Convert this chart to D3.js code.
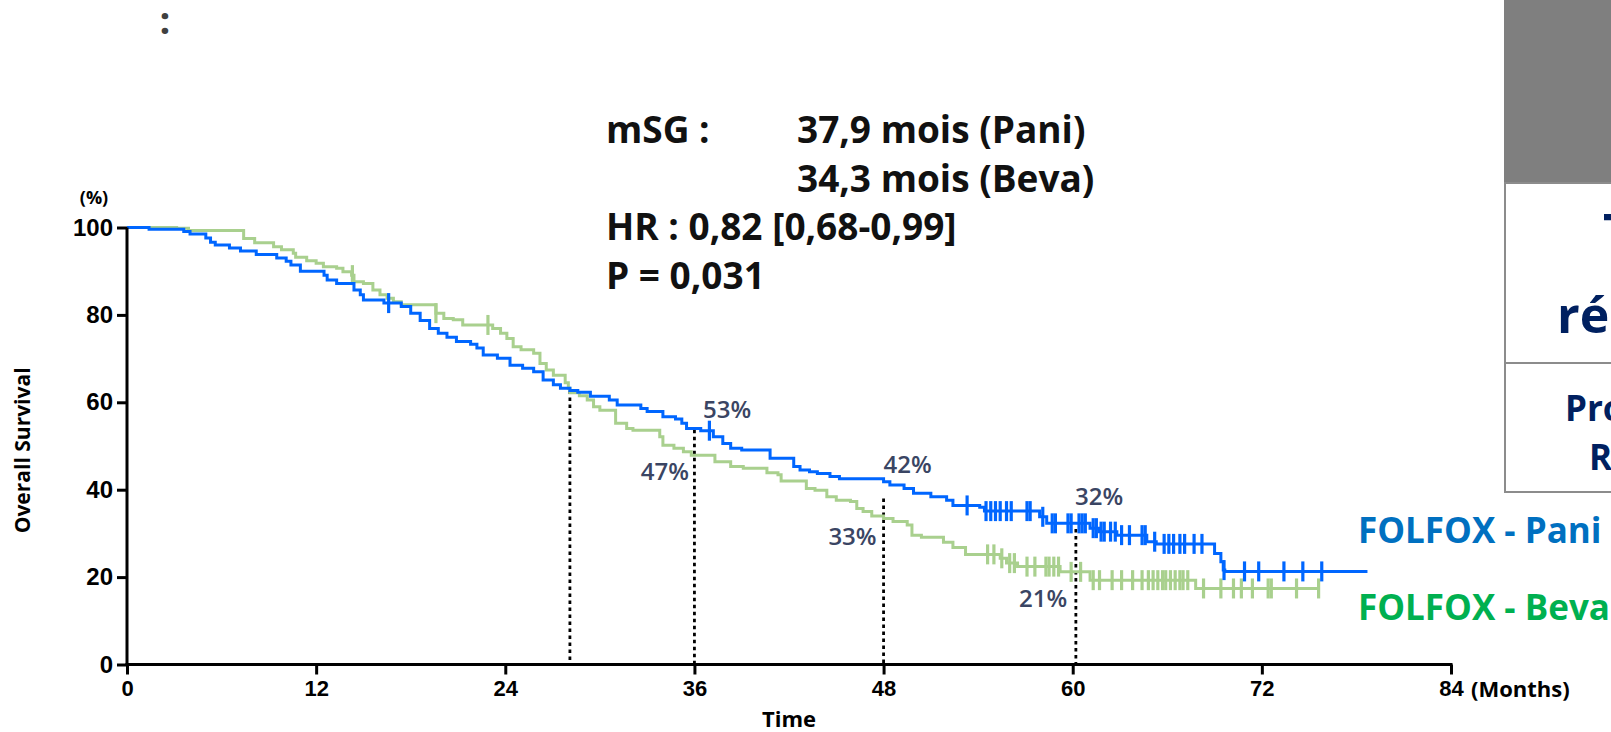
<!DOCTYPE html>
<html>
<head>
<meta charset="utf-8">
<script src="https://cdn.jsdelivr.net/npm/d3@7"></script>
<style>
  body { margin: 0; background: #fff; }
  svg { display: block; font-family: "Open Sans", "Noto Sans", sans-serif; }
  .axis path, .axis line { stroke: #000; stroke-width: 3px; }
  .axis text { font-size: 22px; font-weight: 700; fill: #000; }
  .yaxis text { font-size: 24px; }
</style>
</head>
<body>
<svg id="chart" width="1611" height="732"></svg>
<script>
// Kaplan-Meier steps: time (months) and survival (%) after each step
var paniTime = [0, 1.4, 3.6, 4.0, 5.0, 5.3, 5.6, 6.5, 7.2, 8.2, 9.5, 10.1, 10.4, 11.0, 12.5, 12.7, 13.3, 14.4, 14.8, 15.0,
    16.3, 17.4, 18.0, 18.6, 19.2, 19.75, 20.3, 20.9, 21.8, 22.2, 22.6, 23.5, 24.3, 25.1, 25.8, 26.4, 27.05, 27.5, 28.1, 28.6,
    29.4, 30.6, 31.1, 32.6, 33.0, 34.0, 34.8, 35.2, 35.5, 36.4, 37.2, 37.8, 38.3, 39.0, 40.8, 42.3, 42.7, 43.3, 43.8, 44.6,
    45.2, 48.0, 48.4, 49.3, 49.9, 51.0, 52.0, 52.4, 54.1, 54.4, 57.9, 58.35, 61.1, 61.7, 62.8, 64.7, 65.3, 69.0, 69.4, 69.55, 69.65];
var paniSurv = [100, 99.6, 99.1, 98.5, 97.6, 96.6, 96.0, 95.3, 94.6, 93.8, 93.0, 92.3, 91.4, 90.0, 89.1, 88.0, 87.2, 85.7, 84.6, 83.4,
    82.7, 81.9, 80.4, 78.7, 76.9, 75.8, 74.9, 73.9, 73.3, 72.4, 70.8, 70.1, 68.5, 67.8, 67.0, 65.1, 64.0, 63.2, 62.7, 62.3,
    61.4, 60.5, 59.4, 58.6, 57.9, 56.7, 56.2, 55.2, 54.0, 53.5, 52.1, 50.6, 49.5, 49.1, 47.2, 45.3, 44.5, 44.1, 43.7, 43.0,
    42.5, 41.8, 41.1, 40.3, 39.2, 38.4, 37.6, 36.4, 36.0, 35.1, 33.8, 32.3, 31.2, 30.4, 29.6, 28.1, 27.6, 25.4, 23.5, 21.6, 21.3];
var paniCensor = [16.6, 36.95, 53.3, 54.5, 54.8, 55.1, 55.4, 55.8, 56.1, 57.1, 57.3, 58.1, 58.7, 58.9, 59.7, 59.9, 60.4, 60.6,
    60.8, 61.3, 61.5, 61.8, 62.0, 62.4, 62.7, 63.1, 63.6, 64.4, 64.6, 65.2, 65.8, 66.1, 66.4, 66.8, 67.1, 67.7, 68.2, 69.6,
    70.9, 71.8, 73.4, 74.6, 75.8];
var paniEnd = 78.7;

var bevaTime = [0, 3.15, 3.9, 7.4, 8.1, 9.3, 9.8, 10.55, 10.7, 11.4, 12.0, 12.46, 13.3, 13.7, 14.25, 14.4, 15.0, 15.6, 16.05, 16.5,
    16.9, 17.4, 19.6, 20.1, 20.7, 21.3, 23.2, 23.7, 24.1, 24.5, 25.0, 25.8, 26.2, 26.6, 27.05, 27.8, 28.0, 28.1, 28.7, 29.2,
    29.6, 30.0, 31.0, 31.7, 32.1, 33.8, 34.0, 34.7, 35.3, 35.8, 37.3, 38.3, 39.1, 40.6, 41.3, 41.5, 43.1, 43.65, 44.4, 45.0,
    45.9, 46.3, 46.7, 47.25, 48.0, 48.6, 49.5, 49.8, 50.4, 51.8, 52.4, 53.2, 55.4, 55.8, 56.5, 59.2, 61.1, 67.8];
var bevaSurv = [100, 99.8, 99.3, 97.5, 96.5, 95.6, 94.9, 94.1, 93.2, 92.4, 91.8, 91.0, 90.7, 89.9, 89.1, 87.6, 87.2, 85.7, 84.6, 83.8,
    83.0, 82.3, 80.4, 79.2, 78.9, 77.7, 76.9, 75.8, 74.6, 72.7, 72.0, 71.2, 68.9, 67.4, 66.2, 64.5, 63.2, 62.2, 61.5, 60.5,
    59.0, 58.2, 55.2, 54.0, 53.6, 52.1, 50.2, 49.5, 48.7, 47.9, 46.4, 45.3, 44.9, 43.9, 43.4, 42.0, 40.3, 39.9, 38.4, 37.6,
    37.3, 35.7, 35.0, 34.0, 33.4, 32.7, 31.9, 29.6, 29.1, 28.0, 26.8, 25.2, 24.3, 23.2, 22.4, 21.2, 19.3, 17.4];
var bevaCensor = [14.3, 19.6, 22.9, 54.6, 55.0, 55.5, 56.0, 56.3, 57.1, 57.6, 58.3, 58.5, 58.8, 59.1, 59.9, 60.5, 61.3, 61.7,
    62.5, 63.1, 63.8, 64.4, 64.8, 65.1, 65.4, 65.7, 65.9, 66.2, 66.5, 66.8, 67.0, 67.3, 68.3, 69.4, 70.2, 70.7, 71.4, 72.4,
    72.6, 74.2, 75.6];
var bevaEnd = 75.6;

// landmark lines (time, survival at top of the dotted line)
var landmarkTime = [28.1, 36, 48, 60.2];
var landmarkTop = [62.7, 53.7, 38, 31];

// landmark labels anchored in data units (time, survival)
var pctText = ["53%", "47%", "42%", "33%", "32%", "21%"];
var pctTime = [36.55, 32.6, 48.0, 44.5, 60.15, 56.6];
var pctSurv = [56.4, 42.2, 43.8, 27.3, 36.5, 13.2];

var xTicks = [0, 12, 24, 36, 48, 60, 72, 84];
var yTicks = [0, 20, 40, 60, 80, 100];

var statLines = ["mSG :", "HR : 0,82 [0,68-0,99]", "P = 0,031"];
var medianLines = ["37,9 mois (Pani)", "34,3 mois (Beva)"];
var seriesNames = ["FOLFOX - Pani", "FOLFOX - Beva"];

var svg = d3.select("#chart");

// scales
var x = d3.scaleLinear().domain([0, 84]).range([127, 1451]);
var y = d3.scaleLinear().domain([0, 100]).range([664.5, 227.5]);

// step value lookup, used to sit the censor marks on the curve
function survAt(times, surv, t) {
    var i = d3.bisectRight(times, t) - 1;
    return surv[Math.max(i, 0)];
}

// right hand slide fragment (grey header + table)
svg.append("rect").attr("x", 1504).attr("y", 0).attr("width", 107).attr("height", 183).attr("fill", "#7f7f7f");
svg.append("path")
    .attr("d", "M1611,183 H1505 V492 H1611 M1505,363 H1611")
    .attr("fill", "none").attr("stroke", "#8c8c8c").attr("stroke-width", 2);
var navy = "#002060";
svg.append("text").attr("x", 1603).attr("y", 250).attr("font-size", 50).attr("font-weight", 700).attr("fill", navy).text("T");
svg.append("text").attr("x", 1557).attr("y", 333).attr("font-size", 50).attr("font-weight", 700).attr("fill", navy).text("ré");
svg.append("text").attr("x", 1565).attr("y", 421).attr("font-size", 35).attr("font-weight", 700).attr("fill", navy).text("Pro");
svg.append("text").attr("x", 1589).attr("y", 470).attr("font-size", 35).attr("font-weight", 700).attr("fill", navy).text("R");

// stray colon top left
svg.append("text").attr("x", 165).attr("y", 34).attr("text-anchor", "middle")
    .attr("font-size", 38).attr("font-weight", 700).attr("fill", "#404040").text(":");

// dotted landmark lines
svg.append("g").selectAll("line")
    .data(landmarkTime)
    .enter().append("line")
    .attr("x1", function(d) { return x(d); })
    .attr("x2", function(d) { return x(d); })
    .attr("y1", function(d, i) { return y(landmarkTop[i]); })
    .attr("y2", y(0))
    .attr("stroke", "#000")
    .attr("stroke-width", 2.8)
    .attr("stroke-dasharray", "3.5,3.5");

// curves
var line = d3.line()
    .x(function(d) { return x(d[0]); })
    .y(function(d) { return y(d[1]); })
    .curve(d3.curveStepAfter);

function drawArm(times, surv, censor, end, color) {
    var pts = times.map(function(t, i) { return [t, surv[i]]; });
    pts.push([end, surv[surv.length - 1]]);
    var g = svg.append("g");
    g.append("path")
        .attr("d", line(pts))
        .attr("fill", "none")
        .attr("stroke", color)
        .attr("stroke-width", 3);
    g.selectAll("line")
        .data(censor)
        .enter().append("line")
        .attr("x1", function(d) { return x(d); })
        .attr("x2", function(d) { return x(d); })
        .attr("y1", function(d) { return y(survAt(times, surv, d)) - 10; })
        .attr("y2", function(d) { return y(survAt(times, surv, d)) + 10; })
        .attr("stroke", color)
        .attr("stroke-width", 3.2);
}
drawArm(bevaTime, bevaSurv, bevaCensor, bevaEnd, "#a9d08e");
drawArm(paniTime, paniSurv, paniCensor, paniEnd, "#0066ff");

// axes
var yAxis = d3.axisLeft(y).tickValues(yTicks).tickSize(10).tickSizeOuter(0).tickPadding(4);
var xAxis = d3.axisBottom(x).tickValues(xTicks).tickSize(10).tickSizeOuter(0).tickPadding(6);

svg.append("g").attr("class", "axis yaxis")
    .attr("transform", "translate(" + x(0) + ",0)")
    .call(yAxis)
    .call(function(g) { g.select(".domain").attr("d", "M0," + y(100) + "V" + (y(0) + 1.5)); });

svg.append("g").attr("class", "axis")
    .attr("transform", "translate(0," + y(0) + ")")
    .call(xAxis)
    .call(function(g) { g.select(".domain").attr("d", "M" + (x(0) - 1.5) + ",0H" + (x(84) + 1.5)); });

svg.append("text").attr("x", x(84) + 20).attr("y", y(0) + 32)
    .attr("font-size", 22).attr("font-weight", 700).text("(Months)");
svg.append("text").attr("x", x(42)).attr("y", 727).attr("text-anchor", "middle")
    .attr("font-size", 22).attr("font-weight", 700).text("Time");
svg.append("text").attr("x", 94).attr("y", 204).attr("text-anchor", "middle")
    .attr("font-size", 18).attr("font-weight", 700).text("(%)");
svg.append("text")
    .attr("transform", "translate(30," + y(49) + ") rotate(-90)")
    .attr("text-anchor", "middle")
    .attr("font-size", 21).attr("font-weight", 700).text("Overall Survival");

// landmark percentages
svg.append("g").selectAll("text")
    .data(pctText)
    .enter().append("text")
    .attr("x", function(d, i) { return x(pctTime[i]); })
    .attr("y", function(d, i) { return y(pctSurv[i]); })
    .attr("font-size", 24)
    .attr("font-weight", 600)
    .attr("fill", "#3a4563")
    .text(function(d) { return d; });

// statistics block
var stat = svg.append("g").attr("font-size", 37).attr("font-weight", 700).attr("fill", "#111");
stat.append("text").attr("x", 606).attr("y", 143).text(statLines[0]);
stat.append("text").attr("x", 797).attr("y", 143).text(medianLines[0]);
stat.append("text").attr("x", 797).attr("y", 191.5).text(medianLines[1]);
stat.append("text").attr("x", 606).attr("y", 240).text(statLines[1]);
stat.append("text").attr("x", 606).attr("y", 288.5).text(statLines[2]);

// series labels
svg.append("text").attr("x", 1358).attr("y", 543).attr("font-size", 35).attr("font-weight", 700)
    .attr("fill", "#0070c0").text(seriesNames[0]);
svg.append("text").attr("x", 1358).attr("y", 620).attr("font-size", 35).attr("font-weight", 700)
    .attr("fill", "#00b050").text(seriesNames[1]);
</script>
</body>
</html>
